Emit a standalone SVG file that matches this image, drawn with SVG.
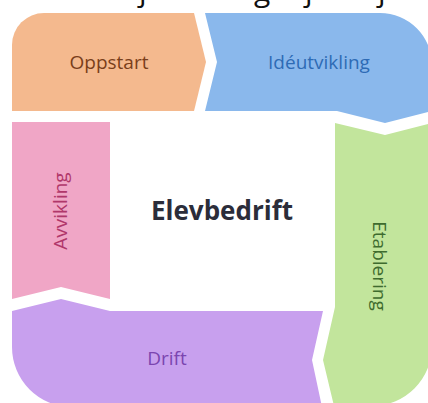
<svg xmlns="http://www.w3.org/2000/svg" width="428" height="403" viewBox="0 0 428 403">
<style>
.lbl{font-family:"Open Sans","Liberation Sans",sans-serif;font-size:19px;font-weight:500;text-anchor:middle}
.title{font-family:"Open Sans","Liberation Sans",sans-serif;font-size:26px;font-weight:bold;fill:#2b2d3a;text-anchor:middle}
.cut{font-family:"Open Sans","Liberation Sans",sans-serif;font-size:30px;fill:#111}
</style>
<rect width="428" height="403" fill="#ffffff"/>
<g id="cut-title">
<text class="cut" x="139" y="1">j</text>
<text class="cut" x="254" y="1">g</text>
<text class="cut" x="305" y="1">j</text>
<text class="cut" x="378" y="1">j</text>
</g>
<g id="oppstart">
<path d="M44,13 H194 L206,62 L194,111 H12 V45 A32,32 0 0 1 44,13 Z" fill="#f4b98e"/>
<text class="lbl" x="109" y="69" fill="#7a3e1a">Oppstart</text>
</g>
<g id="ideutvikling">
<path d="M205,13 H380 A52,52 0 0 1 432,65 V111 L385,123 L337,111 H205 L217,62 Z" fill="#8ab8ec"/>
<text class="lbl" x="319" y="69" fill="#2e6bb5">Idéutvikling</text>
</g>
<g id="etablering">
<path d="M335,123 L385,135 L432,123 V346 A60,60 0 0 1 372,406 H334 L323,360 L335,307 Z" fill="#c2e59c"/>
<text class="lbl" transform="translate(373,266) rotate(90)" x="0" y="0" fill="#3e6b2e">Etablering</text>
</g>
<g id="drift">
<path d="M12,311 L61,299 L110,311 H323 L312,360 L322,407 H72 A60,60 0 0 1 12,347 Z" fill="#c8a0ee"/>
<text class="lbl" x="167" y="365" fill="#7b45b0">Drift</text>
</g>
<g id="avvikling">
<path d="M12,122 H110 V299 L61,287 L12,299 Z" fill="#f0a6c6"/>
<text class="lbl" transform="translate(67,211) rotate(-90)" x="0" y="0" fill="#b0376a">Avvikling</text>
</g>
<g id="center">
<text class="title" x="222" y="220">Elevbedrift</text>
</g>
<g id="connectors"></g>
</svg>
